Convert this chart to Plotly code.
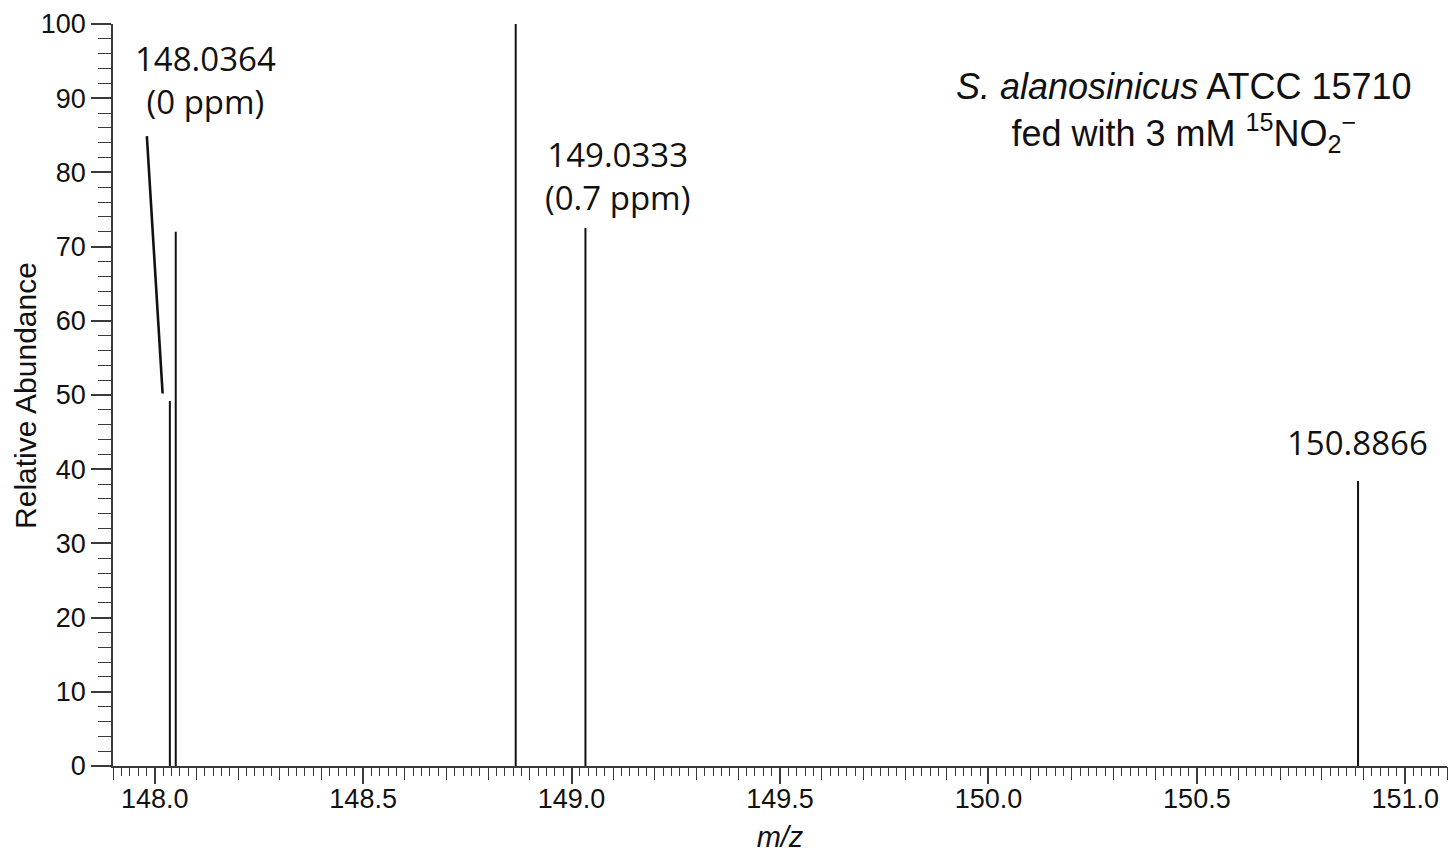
import plotly.graph_objects as go

# ---- data ----
peak_mz = [148.0364, 148.0505, 148.8660, 149.0333, 150.8866]
peak_int = [49.2, 72.0, 100.0, 72.5, 38.4]

# peak label texts and their anchor positions (m/z, abundance)
label_text = ["148.0364<br>(0 ppm)", "149.0333<br>(0.7 ppm)", "150.8866"]
label_x = [148.122, 149.109, 150.886]
label_y = [92.4, 79.5, 43.6]

# leader line from label to the 148.0364 peak
leader_from = (147.981, 85.1)
leader_to = (148.019, 50.2)

info_lines = ["<i>S. alanosinicus</i> ATCC 15710",
              "fed with 3 mM <sup>15</sup>NO<sub>2</sub><sup>−</sup>"]
info_x = 150.47
info_y = 88.2

x_title = "<i>m/z</i>"
y_title = "Relative Abundance"

x_range = [147.9, 151.1]
y_range = [0, 100]

# ---- build stick spectrum ----
xs, ys = [], []
for m, h in zip(peak_mz, peak_int):
    xs += [m, m, None]
    ys += [0, h, None]

fig = go.Figure()
fig.add_trace(go.Scatter(x=xs, y=ys, mode="lines",
                         line=dict(color="#111111", width=2),
                         hoverinfo="skip", showlegend=False))
# helper traces so the secondary (tick-only) x axes are drawn
for ax in ("x2", "x3"):
    fig.add_trace(go.Scatter(x=[peak_mz[0]], y=[0], mode="markers",
                             marker=dict(opacity=0), xaxis=ax,
                             hoverinfo="skip", showlegend=False))

axis_col = "#3a3a3a"
tick_font = dict(family="Liberation Sans, Arial", size=27, color="#111111")

fig.update_layout(
    width=1452, height=854,
    margin=dict(l=113, r=5, t=24, b=88),
    paper_bgcolor="white", plot_bgcolor="white",
    font=dict(family="Liberation Sans, Arial", color="#111111"),
    xaxis=dict(range=x_range, tick0=148.0, dtick=0.5, tickformat=".1f",
               ticks="outside", ticklen=8, tickwidth=1.3, tickcolor=axis_col,
               showline=True, linecolor=axis_col, linewidth=1.5,
               showgrid=False, zeroline=False, tickfont=tick_font,
               minor=dict(dtick=0.02, tick0=148.0, ticks="outside", ticklen=8,
                          tickwidth=1.3, tickcolor=axis_col, showgrid=False),
               title=dict(text=x_title, font=dict(size=29), standoff=14)),
    xaxis2=dict(range=x_range, overlaying="x", anchor="y", side="bottom",
                tick0=148.0, dtick=0.1, ticks="outside", ticklen=13,
                tickwidth=1.3, tickcolor=axis_col, showticklabels=False,
                showline=False, showgrid=False, zeroline=False),
    xaxis3=dict(range=x_range, overlaying="x", anchor="y", side="bottom",
                tick0=148.0, dtick=0.5, ticks="outside", ticklen=17,
                tickwidth=1.5, tickcolor=axis_col, showticklabels=False,
                showline=False, showgrid=False, zeroline=False),
    yaxis=dict(range=y_range, tick0=0, dtick=10,
               ticks="outside", ticklen=20, tickwidth=1.5, tickcolor=axis_col,
               showline=True, linecolor=axis_col, linewidth=1.5,
               showgrid=False, zeroline=False, tickfont=tick_font,
               minor=dict(dtick=2, ticks="outside", ticklen=13,
                          tickwidth=1.3, tickcolor=axis_col, showgrid=False)),
)

# y axis title placed precisely
fig.add_annotation(x=-0.066, y=0.5, xref="paper", yref="paper", text=y_title,
                   textangle=-90, showarrow=False, xanchor="center", yanchor="middle",
                   font=dict(family="Liberation Sans, Arial", size=30, color="#111111"))

for t, x, y in zip(label_text, label_x, label_y):
    fig.add_annotation(x=x, y=y, xref="x", yref="y", text=t, showarrow=False,
                       xanchor="center", yanchor="middle",
                       font=dict(family="Open Sans", size=33, color="#111111"))

fig.add_annotation(x=leader_to[0], y=leader_to[1], ax=leader_from[0], ay=leader_from[1],
                   xref="x", yref="y", axref="x", ayref="y", text="",
                   showarrow=True, arrowhead=0, arrowwidth=2.6, arrowcolor="#111111")

fig.add_annotation(x=info_x, y=info_y, xref="x", yref="y",
                   text="<br>".join(info_lines), showarrow=False,
                   xanchor="center", yanchor="middle", align="center",
                   font=dict(family="Liberation Sans, Arial", size=36, color="#111111"))

fig.write_html("out.html", config={"displayModeBar": False},
               post_script="document.body.style.margin='0';")
